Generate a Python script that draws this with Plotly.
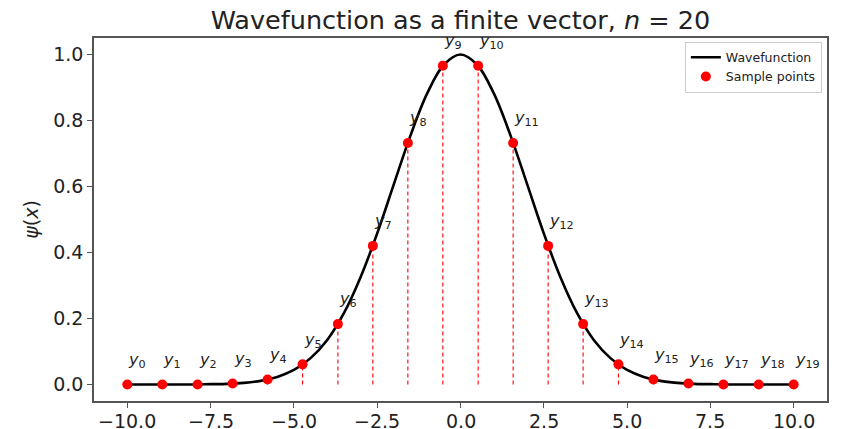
import plotly.graph_objects as go

# Continuous wavefunction psi(x), tabulated on a 0.5 grid
curve_x = [-10.0, -9.5, -9.0, -8.5, -8.0, -7.5, -7.0, -6.5, -6.0, -5.5, -5.0,
           -4.5, -4.0, -3.5, -3.0, -2.5, -2.0, -1.5, -1.0, -0.5, 0.0,
           0.5, 1.0, 1.5, 2.0, 2.5, 3.0, 3.5, 4.0, 4.5, 5.0,
           5.5, 6.0, 6.5, 7.0, 7.5, 8.0, 8.5, 9.0, 9.5, 10.0]
curve_y = [0.000, 0.000, 0.000, 0.000, 0.000, 0.001, 0.002, 0.005, 0.011, 0.023, 0.044,
           0.080, 0.135, 0.216, 0.325, 0.458, 0.607, 0.755, 0.882, 0.969, 1.000,
           0.969, 0.882, 0.755, 0.607, 0.458, 0.325, 0.216, 0.135, 0.080, 0.044,
           0.023, 0.011, 0.005, 0.002, 0.001, 0.000, 0.000, 0.000, 0.000, 0.000]

# The n = 20 sample points y_0 ... y_19
sample_x = [-10.00, -8.95, -7.89, -6.84, -5.79, -4.74, -3.68, -2.63, -1.58, -0.53,
            0.53, 1.58, 2.63, 3.68, 4.74, 5.79, 6.84, 7.89, 8.95, 10.00]
sample_y = [0.000, 0.000, 0.000, 0.003, 0.015, 0.061, 0.183, 0.420, 0.732, 0.966,
            0.966, 0.732, 0.420, 0.183, 0.061, 0.015, 0.003, 0.000, 0.000, 0.000]

x_ticks = [-10.0, -7.5, -5.0, -2.5, 0.0, 2.5, 5.0, 7.5, 10.0]
y_ticks = [0.0, 0.2, 0.4, 0.6, 0.8, 1.0]

FONT = "DejaVu Sans"
AXIS_COLOR = "#555555"
TEXT_COLOR = "#222222"

fig = go.Figure()

# Dashed drop lines from the axis up to each sample
stem_x, stem_y = [], []
for xs, ys in zip(sample_x, sample_y):
    stem_x += [xs, xs, None]
    stem_y += [0.0, ys, None]
fig.add_trace(go.Scatter(
    x=stem_x, y=stem_y, mode="lines",
    line=dict(color="red", width=1.1, dash="4px,3px"),
    showlegend=False, hoverinfo="skip",
))

fig.add_trace(go.Scatter(
    x=curve_x, y=curve_y, mode="lines", name="Wavefunction",
    line=dict(color="black", width=2.6, shape="spline", smoothing=1.0),
))

fig.add_trace(go.Scatter(
    x=sample_x, y=sample_y, mode="markers", name="Sample points",
    marker=dict(color="red", size=10, line=dict(width=0)),
))

# y_i labels just above each point
for i, (xs, ys) in enumerate(zip(sample_x, sample_y)):
    fig.add_annotation(
        x=xs, y=ys + 0.06, xref="x", yref="y",
        text=f"<i>y</i><sub>{i}</sub>",
        showarrow=False, xanchor="left", yanchor="bottom",
        xshift=-1, yshift=-8,
        font=dict(family=FONT, size=16, color=TEXT_COLOR),
    )

# x tick labels, set close under the tick marks
for v in x_ticks:
    fig.add_annotation(
        x=v, y=0, xref="x", yref="paper",
        text=f"{v:.1f}".replace("-", "\u2212"),
        showarrow=False, xanchor="center", yanchor="top",
        yshift=-7,
        font=dict(family=FONT, size=19, color=TEXT_COLOR),
    )

axis_common = dict(
    showgrid=False, zeroline=False, showline=True, mirror=True,
    linecolor=AXIS_COLOR, linewidth=1.5,
    ticks="outside", ticklen=5, tickwidth=1.2, tickcolor=AXIS_COLOR,
    tickfont=dict(family=FONT, size=19, color=TEXT_COLOR),
    automargin=False,
)

fig.update_xaxes(
    range=[-11, 11],
    tickvals=x_ticks,
    showticklabels=False,
    **axis_common,
)
fig.update_yaxes(
    range=[-0.05, 1.05],
    tickvals=y_ticks,
    ticktext=[f"{v:.1f}" for v in y_ticks],
    title=dict(text="<i>ψ</i>(<i>x</i>)", font=dict(family=FONT, size=19, color=TEXT_COLOR),
               standoff=10),
    **axis_common,
)

fig.update_layout(
    width=843, height=429,
    margin=dict(l=94, r=16, t=38, b=28),
    paper_bgcolor="white", plot_bgcolor="white",
    title=dict(
        text="Wavefunction as a finite vector, <i>n</i> = 20",
        x=0.5, xref="paper", xanchor="center",
        y=0.953, yref="container", yanchor="middle",
        font=dict(family=FONT, size=25.5, color=TEXT_COLOR),
        automargin=False,
    ),
    legend=dict(
        x=0.993, y=0.99, xanchor="right", yanchor="top",
        bordercolor="#cccccc", borderwidth=1, bgcolor="white",
        font=dict(family=FONT, size=12.5, color=TEXT_COLOR),
        tracegroupgap=0, itemwidth=30,
    ),
    showlegend=True,
)

fig.write_html("out.html")
